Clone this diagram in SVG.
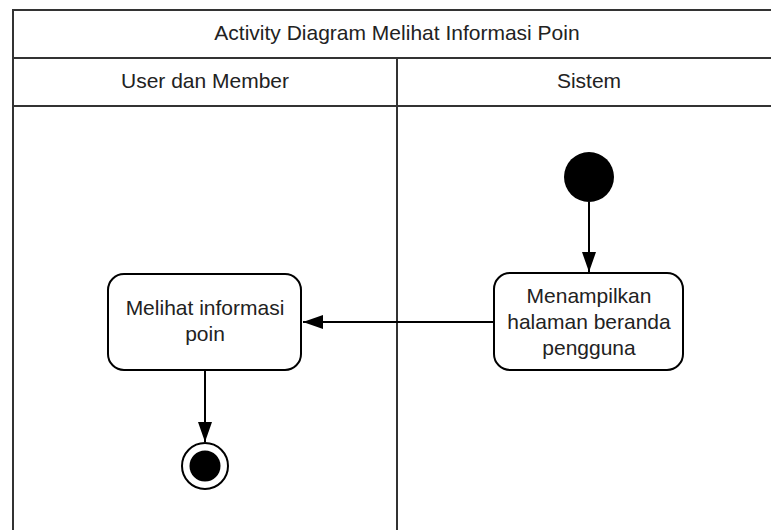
<svg xmlns="http://www.w3.org/2000/svg" width="771" height="530" viewBox="0 0 771 530">
<style>
.frame{fill:none;stroke:#333;stroke-width:2}
.node{fill:#fff;stroke:#000;stroke-width:2}
.t{font-family:"Liberation Sans",Arial,sans-serif;font-size:21px;fill:#222;text-anchor:middle}
.edge{fill:none;stroke:#000;stroke-width:2}
</style>
<defs>
<marker id="arr" viewBox="0 0 20 14" refX="20" refY="7" markerWidth="20" markerHeight="14" markerUnits="userSpaceOnUse" orient="auto">
<path d="M0,0 L20,7 L0,14 Z" fill="#000"/>
</marker>
</defs>
<rect width="771" height="530" fill="#fff"/>
<g id="frame">
<rect class="frame" x="13" y="10" width="780" height="540"/>
<line class="frame" x1="13" y1="58" x2="771" y2="58"/>
<line class="frame" x1="13" y1="106" x2="771" y2="106"/>
<line class="frame" x1="397" y1="58" x2="397" y2="530"/>
<text class="t" x="397" y="40">Activity Diagram Melihat Informasi Poin</text>
<text class="t" x="205" y="88">User dan Member</text>
<text class="t" x="589" y="88">Sistem</text>
</g>
<g id="start">
<circle cx="589" cy="177" r="25" fill="#000"/>
</g>
<g id="tampil">
<rect class="node" x="494" y="273" width="189" height="97" rx="16"/>
<text class="t" x="589" y="303">Menampilkan</text>
<text class="t" x="589" y="329">halaman beranda</text>
<text class="t" x="589" y="355">pengguna</text>
</g>
<g id="lihat">
<rect class="node" x="108" y="274" width="193" height="96" rx="16"/>
<text class="t" x="205" y="315">Melihat informasi</text>
<text class="t" x="205" y="341">poin</text>
</g>
<g id="end">
<circle cx="205" cy="466" r="23" fill="#fff" stroke="#000" stroke-width="2"/>
<circle cx="205" cy="466" r="15.5" fill="#000"/>
</g>
<g id="connectors">
<line class="edge" x1="589" y1="202" x2="589" y2="272" marker-end="url(#arr)"/>
<line class="edge" x1="494" y1="322" x2="303" y2="322" marker-end="url(#arr)"/>
<line class="edge" x1="205" y1="370" x2="205" y2="442" marker-end="url(#arr)"/>
</g>
</svg>
